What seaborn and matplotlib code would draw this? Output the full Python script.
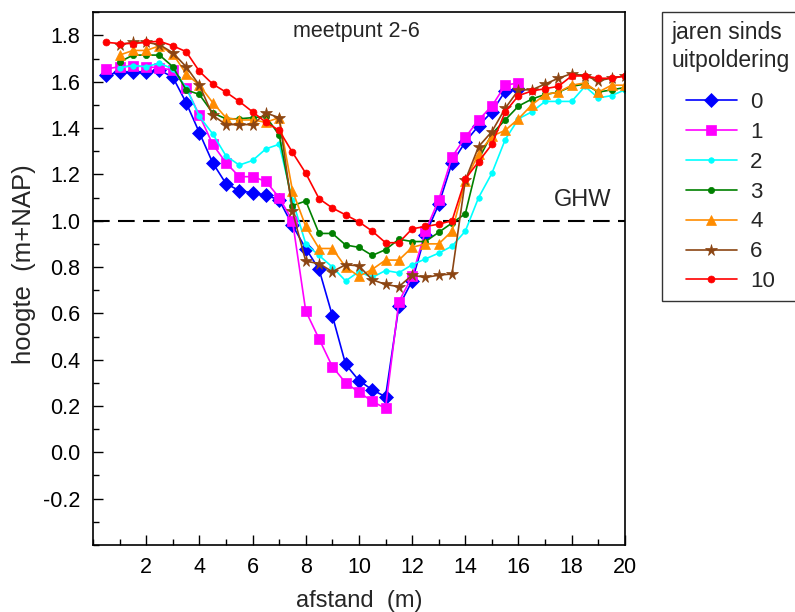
import numpy as np
import pandas as pd
import matplotlib
matplotlib.use("Agg")
import matplotlib.pyplot as plt
import seaborn as sns

nan = np.nan

# afstand (m), meetpunten elke 0.5 m
afstand = [0.5, 1.0, 1.5, 2.0, 2.5, 3.0, 3.5, 4.0, 4.5, 5.0,
           5.5, 6.0, 6.5, 7.0, 7.5, 8.0, 8.5, 9.0, 9.5, 10.0,
           10.5, 11.0, 11.5, 12.0, 12.5, 13.0, 13.5, 14.0, 14.5, 15.0,
           15.5, 16.0, 16.5, 17.0, 17.5, 18.0, 18.5, 19.0, 19.5, 20.0]

jaren = ["0", "1", "2", "3", "4", "6", "10"]

hoogte_0 = [1.63, 1.64, 1.64, 1.64, 1.65, 1.62, 1.51, 1.38, 1.25, 1.16,
            1.13, 1.12, 1.11, 1.09, 0.98, 0.88, 0.79, 0.59, 0.38, 0.31,
            0.27, 0.24, 0.63, 0.74, 0.94, 1.07, 1.25, 1.34, 1.41, 1.47,
            1.56, 1.57, nan, nan, nan, nan, nan, nan, nan, nan]
hoogte_1 = [1.655, 1.665, 1.668, 1.665, 1.66, 1.65, 1.575, 1.455, 1.33, 1.25,
            1.19, 1.19, 1.17, 1.10, 1.00, 0.61, 0.49, 0.37, 0.30, 0.26,
            0.22, 0.19, 0.65, 0.76, 0.955, 1.09, 1.275, 1.36, 1.435, 1.495,
            1.585, 1.595, nan, nan, nan, nan, nan, nan, nan, nan]
hoogte_2 = [nan, 1.66, 1.67, 1.665, 1.68, 1.655, 1.575, 1.45, 1.375, 1.28,
            1.24, 1.26, 1.31, 1.33, 1.09, 0.90, 0.85, 0.80, 0.74, 0.78,
            0.755, 0.785, 0.775, 0.81, 0.835, 0.86, 0.89, 0.955, 1.10, 1.205,
            1.35, 1.44, 1.47, 1.515, 1.515, 1.515, 1.58, 1.53, 1.54, 1.565]
hoogte_3 = [nan, 1.685, 1.715, 1.715, 1.715, 1.665, 1.565, 1.545, 1.465, 1.44,
            1.44, 1.445, 1.45, 1.37, 1.065, 1.085, 0.945, 0.945, 0.895, 0.885,
            0.85, 0.875, 0.92, 0.91, 0.91, 0.95, 0.99, 1.03, 1.265, 1.375,
            1.435, 1.495, 1.525, 1.545, 1.555, 1.58, 1.59, 1.555, 1.565, 1.575]
hoogte_4 = [nan, 1.715, 1.735, 1.735, 1.755, 1.72, 1.635, 1.585, 1.51, 1.445,
            1.435, 1.435, 1.425, 1.445, 1.13, 0.975, 0.88, 0.88, 0.80, 0.76,
            0.79, 0.83, 0.83, 0.885, 0.90, 0.90, 0.955, 1.17, 1.29, 1.365,
            1.39, 1.44, 1.50, 1.545, 1.555, 1.585, 1.595, 1.555, 1.585, 1.585]
hoogte_6 = [nan, 1.76, 1.77, 1.77, 1.76, 1.725, 1.665, 1.585, 1.455, 1.415,
            1.415, 1.415, 1.465, 1.445, 1.04, 0.825, 0.815, 0.78, 0.81, 0.805,
            0.745, 0.725, 0.715, 0.765, 0.755, 0.765, 0.77, 1.175, 1.32, 1.385,
            1.485, 1.565, 1.565, 1.59, 1.615, 1.635, 1.625, 1.605, 1.615, 1.625]
hoogte_10 = [1.77, 1.765, 1.765, 1.77, 1.775, 1.755, 1.73, 1.645, 1.59, 1.555,
             1.515, 1.47, 1.425, 1.39, 1.295, 1.205, 1.095, 1.055, 1.025, 0.995,
             0.955, 0.905, 0.905, 0.965, 0.975, 0.985, 1.00, 1.18, 1.255, 1.33,
             1.47, 1.54, 1.56, 1.57, 1.58, 1.625, 1.625, 1.615, 1.615, 1.625]

ghw = 1.0

series = [hoogte_0, hoogte_1, hoogte_2, hoogte_3, hoogte_4, hoogte_6, hoogte_10]
kleuren = ["#0000ff", "#ff00ff", "#00ffff", "#008000", "#ff8c00", "#8b4513", "#ff0000"]
markers = ["D", "s", "o", "o", "^", "*", "o"]
msizes = [7, 6.5, 4, 4.5, 7.5, 8.5, 5]

sns.set_theme(style="white")
plt.rcParams["font.family"] = ["Liberation Sans", "DejaVu Sans"]

fig = plt.figure(figsize=(7.95, 6.12), dpi=100)
ax = fig.add_axes([0.117, 0.1095, 0.669, 0.8705])

for jaar, h, c, m, ms in zip(jaren, series, kleuren, markers, msizes):
    df = pd.DataFrame({"afstand": afstand, "hoogte": h}).dropna()
    sns.lineplot(data=df, x="afstand", y="hoogte", ax=ax, color=c, marker=m,
                 markersize=ms, markeredgecolor=c, markeredgewidth=0.5,
                 linewidth=1.2, label=jaar, sort=False)

ax.axhline(ghw, color="black", linestyle=(0, (8, 4)), linewidth=1.5, zorder=1)
ax.text(18.4, 1.09, "GHW", fontsize=17, ha="center", va="center")
ax.text(9.9, 1.817, "meetpunt 2-6", fontsize=15.5, ha="center", va="center")

ax.set_xlim(0, 20)
ax.set_ylim(-0.4, 1.9)
ax.set_xticks([2, 4, 6, 8, 10, 12, 14, 16, 18, 20])
ax.set_xticks(np.arange(0, 21, 1), minor=True)
ax.set_yticks([-0.2, 0.0, 0.2, 0.4, 0.6, 0.8, 1.0, 1.2, 1.4, 1.6, 1.8])
ax.set_yticklabels(["-0.2", "0.0", "0.2", "0.4", "0.6", "0.8", "1.0", "1.2", "1.4", "1.6", "1.8"])
ax.set_yticks(np.arange(-0.4, 1.91, 0.1), minor=True)
ax.tick_params(axis="both", which="both", direction="in", left=True, bottom=True,
               right=False, top=False, labelsize=15.5, colors="black")
ax.tick_params(which="major", length=7, width=1)
ax.tick_params(which="minor", length=4, width=1)
ax.tick_params(axis="x", pad=9)
ax.tick_params(axis="y", pad=9)
for sp in ax.spines.values():
    sp.set_color("black")
    sp.set_linewidth(1.2)

ax.set_xlabel("afstand  (m)", fontsize=17, labelpad=8)
ax.set_ylabel("hoogte  (m+NAP)", fontsize=18.5)
ax.yaxis.set_label_coords(-0.108, 0.527)

handles, labels = ax.get_legend_handles_labels()
leg = ax.legend(handles, labels, title="jaren sinds\nuitpoldering", loc="upper left",
                bbox_to_anchor=(0.833, 0.981), bbox_transform=fig.transFigure,
                fontsize=16, title_fontsize=16.5, frameon=True, fancybox=False,
                edgecolor="black", handlelength=2.3, handletextpad=0.6,
                labelspacing=0.4, borderpad=0.4, borderaxespad=0,
                alignment="center")
leg.get_frame().set_linewidth(1.0)
leg.get_title().set_linespacing(1.3)
leg._legend_box.sep = 0.4 * 16 + 8

fig.savefig("out.png", dpi=100)
